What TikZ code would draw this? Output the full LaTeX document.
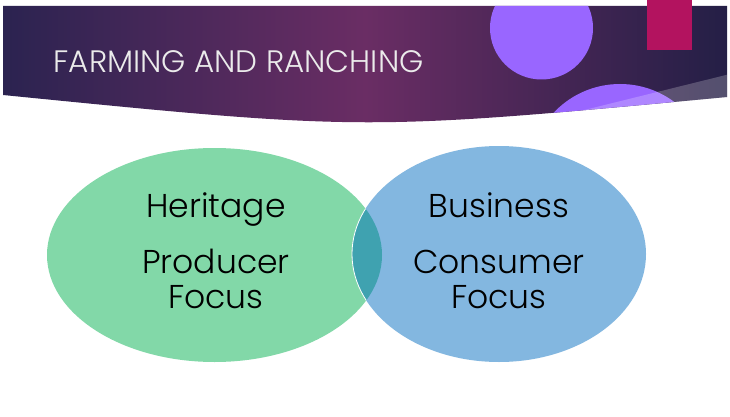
\documentclass[tikz,border=0pt]{standalone}
\usepackage{fontspec}
\setmainfont{Poppins}[UprightFont=* Light]
\newfontfamily\titlefont{Poppins}[UprightFont=* Light]
\usetikzlibrary{shapes.geometric}
\definecolor{navyL}{HTML}{2B2350}
\definecolor{plumM}{HTML}{6A2D64}
\definecolor{navyR}{HTML}{241F46}
\definecolor{lilac}{HTML}{9966FF}
\definecolor{berry}{HTML}{B3135F}
\definecolor{mint}{HTML}{82D8A8}
\definecolor{sky}{HTML}{83B7E0}
\definecolor{tealmix}{HTML}{3FA2B0}
\tikzset{
  bodytext/.style={font=\fontsize{33}{35}\selectfont, text=black, anchor=base, inner sep=0pt},
  titletext/.style={font=\titlefont\fontsize{31}{34}\selectfont, text=white!92!black, anchor=west}
}
\begin{document}
\begin{tikzpicture}[x=1pt,y=-1pt]
\useasboundingbox (0,0) rectangle (730,417);
\fill[white] (0,0) rectangle (730,417);
% banner with curved lower edge
\def\bannerpath{(3,6) -- (727,6) -- (727,97) .. controls (365,131) .. (3,95) -- cycle}
\shade[left color=navyL, right color=navyR, middle color=plumM] \bannerpath;
\begin{scope}
  \clip \bannerpath;
  \fill[lilac] (541.5,28) circle (51.5);
  \fill[lilac] (620,175) circle (91);
  \fill[white, opacity=0.22] (548,119) -- (730,74) -- (730,140) -- cycle;
\end{scope}
\fill[berry] (647,0) rectangle (692,50);
\node[titletext] (title) at (50,62) {FARMING AND RANCHING};
% two overlapping ellipses
\fill[mint] (214.5,255) ellipse [x radius=167.5, y radius=107];
\fill[sky] (499,254) ellipse [x radius=147, y radius=108];
\begin{scope}
  \clip (214.5,255) ellipse [x radius=167.5, y radius=107];
  \fill[tealmix] (499,254) ellipse [x radius=147, y radius=108];
  \draw[white, line width=0.8pt] (499,254) ellipse [x radius=147, y radius=108];
\end{scope}
\node[bodytext] (heritage) at (216,217) {Heritage};
\node[bodytext] (producer) at (216,273) {Producer};
\node[bodytext] (focusL) at (216,308) {Focus};
\node[bodytext] (business) at (499,217) {Business};
\node[bodytext] (consumer) at (499,273) {Consumer};
\node[bodytext] (focusR) at (499,308) {Focus};
\end{tikzpicture}
\end{document}
